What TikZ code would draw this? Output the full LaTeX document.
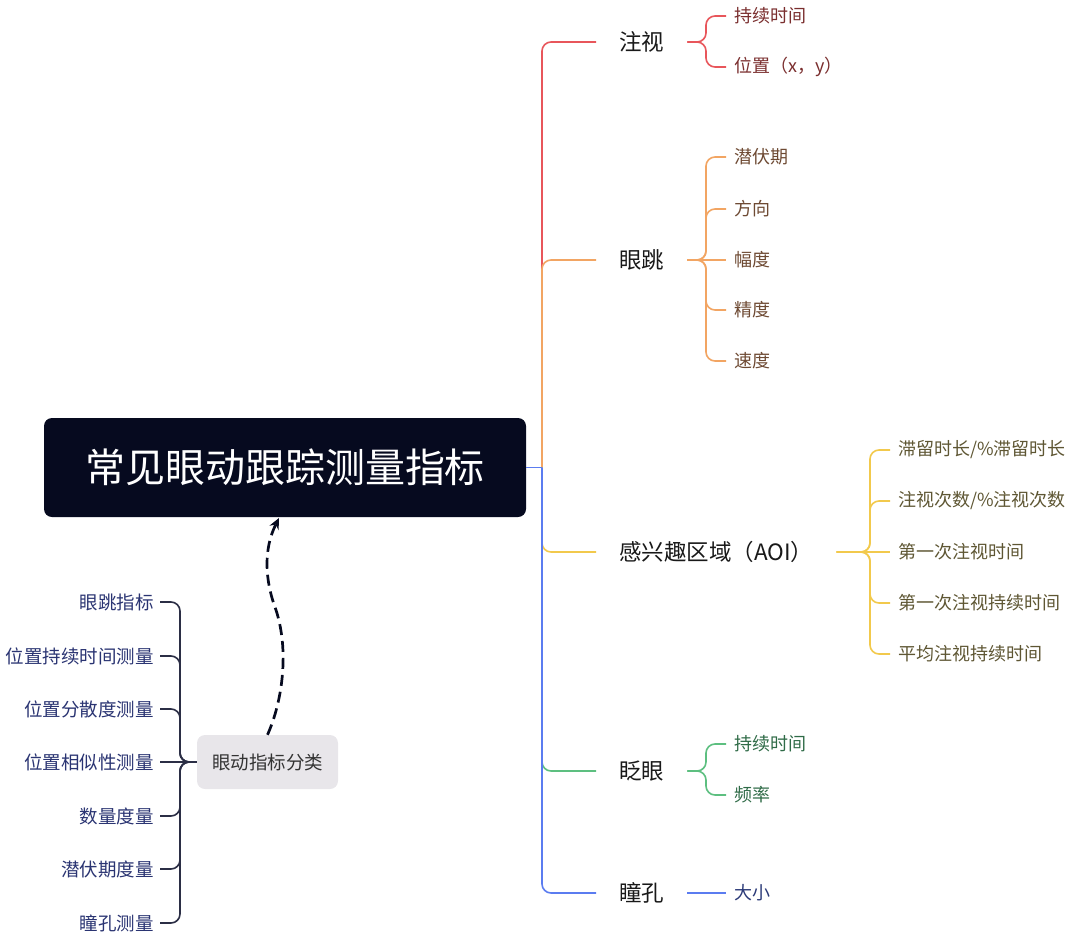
\documentclass[tikz,border=0pt]{standalone}
\usepackage{fontspec}
\setmainfont{Noto Sans CJK SC}
\usetikzlibrary{arrows.meta}
\usepackage{xcolor}

\definecolor{rootbg}{HTML}{060A1F}
\definecolor{boxbg}{HTML}{E8E6EA}
\definecolor{redln}{HTML}{E8565B}
\definecolor{orangeln}{HTML}{F2A563}
\definecolor{yellowln}{HTML}{F2C94C}
\definecolor{greenln}{HTML}{5DBF80}
\definecolor{blueln}{HTML}{5B7CF0}
\definecolor{darkln}{HTML}{2B2E45}
\definecolor{redtxt}{HTML}{7A2E2E}
\definecolor{orangetxt}{HTML}{6E4A33}
\definecolor{yellowtxt}{HTML}{5E5633}
\definecolor{greentxt}{HTML}{2F6B47}
\definecolor{bluetxt}{HTML}{2B3A78}
\definecolor{sidetxt}{HTML}{2A3472}

\begin{document}
\begin{tikzpicture}[
x=1pt, y=-1pt,
rootbox/.style={fill=rootbg,
rounded corners=8pt,
minimum width=482pt,
minimum height=99pt,
text=white,
font=\fontsize{40}{46}\selectfont},
classbox/.style={fill=boxbg,
rounded corners=8pt,
minimum width=141pt,
minimum height=54pt,
text=black!80,
font=\fontsize{18.5}{22}\selectfont},
topic/.style={anchor=west, inner xsep=23pt, inner ysep=0pt, text=black!90, font=\fontsize{22.5}{27}\selectfont},
sub/.style={anchor=west, inner xsep=8pt, inner ysep=0pt, font=\fontsize{18}{22}\selectfont},
side/.style={anchor=east, inner xsep=6pt, inner ysep=0pt, text=sidetxt, font=\fontsize{18.5}{22}\selectfont},
link/.style={line width=1.6pt, rounded corners=9pt},
arrow/.style={-{Stealth[length=11pt,width=10pt]}, line width=2.7pt, dash pattern=on 11pt off 6pt, draw=rootbg}
]
\useasboundingbox (0,0) rectangle (1080,940);

% root and main topics
\node[rootbox] (root) at (285,467.5) {常见眼动跟踪测量指标};
\node[topic] (zhushi) at (596,42) {注视};
\node[topic] (yantiao) at (596,260) {眼跳};
\node[topic] (aoi) at (596,552) {感兴趣区域（AOI）};
\node[topic] (zhayan) at (596,771) {眨眼};
\node[topic] (tongkong) at (596,893) {瞳孔};

\coordinate (trunk) at (542,467.5);
\coordinate (zj) at (706,42);
\coordinate (yj) at (706,260);
\coordinate (aj) at (870,552);
\coordinate (bj) at (706,771);

% sub topics
\node[sub, text=redtxt] (z1) at (726,16) {持续时间};
\node[sub, text=redtxt] (z2) at (726,67) {位置（x，y）};

\node[sub, text=orangetxt] (y1) at (726,157) {潜伏期};
\node[sub, text=orangetxt] (y2) at (726,209) {方向};
\node[sub, text=orangetxt] (y3) at (726,260) {幅度};
\node[sub, text=orangetxt] (y4) at (726,310) {精度};
\node[sub, text=orangetxt] (y5) at (726,361) {速度};

\node[sub, text=yellowtxt] (a1) at (890,450) {滞留时长/\%滞留时长};
\node[sub, text=yellowtxt] (a2) at (890,501) {注视次数/\%注视次数};
\node[sub, text=yellowtxt] (a3) at (890,552) {第一次注视时间};
\node[sub, text=yellowtxt] (a4) at (890,603) {第一次注视持续时间};
\node[sub, text=yellowtxt] (a5) at (890,654) {平均注视持续时间};

\node[sub, text=greentxt] (b1) at (726,744) {持续时间};
\node[sub, text=greentxt] (b2) at (726,795) {频率};

\node[sub, text=bluetxt] (t1) at (726,893) {大小};

% main branches
\draw[link, redln] (trunk) |- (zhushi.west);
\draw[link, orangeln] (trunk) |- (yantiao.west);
\draw[link, yellowln] (trunk) |- (aoi.west);
\draw[link, greenln] (trunk) |- (zhayan.west);
\draw[link, blueln] (trunk) |- (tongkong.west);
\draw[link, blueln] (root.east) -- (trunk);

% sub branches
\draw[link, redln] (zhushi.east) -- (zj) |- (z1.west);
\draw[link, redln] (zhushi.east) -- (zj) |- (z2.west);

\draw[link, orangeln] (yantiao.east) -- (yj) |- (y1.west);
\draw[link, orangeln] (yantiao.east) -- (yj) |- (y2.west);
\draw[link, orangeln] (yantiao.east) -- (y3.west);
\draw[link, orangeln] (yantiao.east) -- (yj) |- (y4.west);
\draw[link, orangeln] (yantiao.east) -- (yj) |- (y5.west);

\draw[link, yellowln] (aoi.east) -- (aj) |- (a1.west);
\draw[link, yellowln] (aoi.east) -- (aj) |- (a2.west);
\draw[link, yellowln] (aoi.east) -- (a3.west);
\draw[link, yellowln] (aoi.east) -- (aj) |- (a4.west);
\draw[link, yellowln] (aoi.east) -- (aj) |- (a5.west);

\draw[link, greenln] (zhayan.east) -- (bj) |- (b1.west);
\draw[link, greenln] (zhayan.east) -- (bj) |- (b2.west);

\draw[link, blueln] (tongkong.east) -- (t1.west);

% classification
\node[classbox] (fenlei) at (267.5,762) {眼动指标分类};
\coordinate (lj) at (180,762);

\node[side] (l1) at (160,602) {眼跳指标};
\node[side] (l2) at (160,656) {位置持续时间测量};
\node[side] (l3) at (160,709) {位置分散度测量};
\node[side] (l4) at (160,762) {位置相似性测量};
\node[side] (l5) at (160,816) {数量度量};
\node[side] (l6) at (160,869) {潜伏期度量};
\node[side] (l7) at (160,923) {瞳孔测量};

\draw[link, darkln] (fenlei.west) -- (lj) |- (l1.east);
\draw[link, darkln] (fenlei.west) -- (lj) |- (l2.east);
\draw[link, darkln] (fenlei.west) -- (lj) |- (l3.east);
\draw[link, darkln] (fenlei.west) -- (l4.east);
\draw[link, darkln] (fenlei.west) -- (lj) |- (l5.east);
\draw[link, darkln] (fenlei.west) -- (lj) |- (l6.east);
\draw[link, darkln] (fenlei.west) -- (lj) |- (l7.east);

\coordinate (tip) at (279,518);
\draw[arrow] (fenlei.north) .. controls (283,700) and (289,650) .. (276,610)
  .. controls (264,578) and (264,548) .. (tip);

\end{tikzpicture}
\end{document}
